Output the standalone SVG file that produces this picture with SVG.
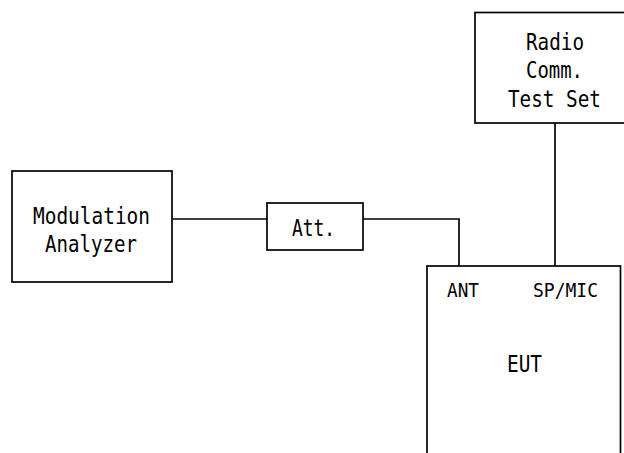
<svg xmlns="http://www.w3.org/2000/svg" width="624" height="453" viewBox="0 0 624 453">
<style>
rect{fill:#fff;stroke:#000;stroke-width:1.7}
.c line,.c path{fill:none;stroke:#000;stroke-width:1.7}
text{font-family:"DejaVu Sans Mono","Liberation Mono",monospace;font-size:23px;fill:#000}
.s{font-size:20px}
</style>
<rect x="0" y="0" width="624" height="453" style="stroke:none"/>
<g class="c" id="connectors">
<line x1="172" y1="219" x2="267" y2="219"/>
<path d="M363,219 H459 V266"/>
<line x1="555" y1="123" x2="555" y2="266"/>
</g>
<g id="modulation-analyzer">
<rect x="12" y="171" width="160" height="111"/>
<text x="33" y="224" textLength="117" lengthAdjust="spacingAndGlyphs">Modulation</text>
<text x="45" y="252" textLength="92" lengthAdjust="spacingAndGlyphs">Analyzer</text>
</g>
<g id="att">
<rect x="267" y="203" width="96" height="47"/>
<text x="292" y="236" textLength="43" lengthAdjust="spacingAndGlyphs">Att.</text>
</g>
<g id="radio-comm-test-set">
<rect x="475" y="12.5" width="170" height="110.5"/>
<text x="526" y="50" textLength="58" lengthAdjust="spacingAndGlyphs">Radio</text>
<text x="526" y="78" textLength="57" lengthAdjust="spacingAndGlyphs">Comm.</text>
<text x="508" y="107" textLength="93" lengthAdjust="spacingAndGlyphs">Test Set</text>
</g>
<g id="eut">
<rect x="427" y="266" width="193.5" height="200"/>
<text class="s" x="447" y="297" textLength="32" lengthAdjust="spacingAndGlyphs">ANT</text>
<text class="s" x="533" y="297" textLength="65" lengthAdjust="spacingAndGlyphs">SP/MIC</text>
<text x="507" y="372" textLength="35" lengthAdjust="spacingAndGlyphs">EUT</text>
</g>
</svg>
